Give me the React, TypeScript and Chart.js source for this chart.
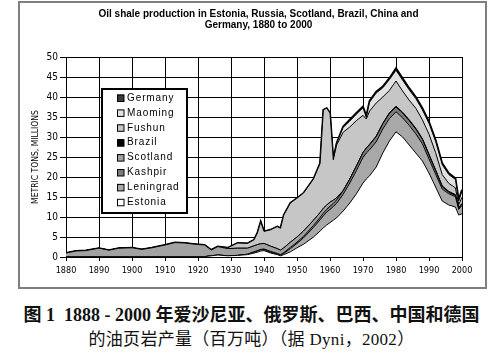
import React, { useEffect, useRef } from "react";
import { Chart, registerables } from "chart.js";
Chart.register(...registerables);

// x values (years) shared by all series
const years = [
  1880, 1883, 1886, 1890, 1893, 1896, 1900, 1903, 1906, 1910,
  1913, 1916, 1919, 1922, 1924, 1926, 1929, 1932, 1935, 1937,
  1938, 1939, 1940, 1942, 1944, 1945, 1946, 1948, 1950, 1952,
  1955, 1957, 1958, 1959, 1960, 1961, 1962, 1964, 1966, 1968,
  1970, 1971, 1972, 1974, 1976, 1978, 1980, 1982, 1984, 1986,
  1988, 1990, 1992, 1994, 1996, 1998, 1999, 2000,
];

// million metric tons, stacked bottom -> top
const estonia = [
  0, 0, 0, 0, 0, 0, 0, 0, 0, 0,
  0, 0, 0, 0.1, 0.3, 0.5, 0.3, 0.4, 0.6, 1.0,
  1.2, 1.5, 1.6, 1.0, 0.6, 0.3, 0.6, 1.3, 2.3, 3.2,
  5.0, 6.5, 7.3, 8.0, 8.6, 9.2, 9.8, 11.5, 13.5, 15.8,
  18.5, 19.5, 20.3, 22.5, 26.0, 29.0, 31.3, 30.0, 28.0, 26.0,
  24.0, 21.0, 17.5, 14.0, 13.0, 12.5, 10.5, 10.8,
];
const leningrad = [
  0, 0, 0, 0, 0, 0, 0, 0, 0, 0,
  0, 0, 0, 0, 0, 0, 0, 0, 0.1, 0.2,
  0.3, 0.3, 0.3, 0.2, 0.1, 0.1, 0.3, 0.8, 1.1, 1.6,
  2.4, 2.8, 3.0, 3.2, 3.3, 3.4, 3.6, 4.2, 5.0, 5.8,
  6.4, 6.5, 6.5, 6.3, 6.0, 5.6, 5.0, 4.8, 4.9, 4.8,
  4.3, 3.5, 3.2, 3.0, 2.8, 2.6, 1.4, 2.1,
];
const kashpir = [
  0, 0, 0, 0, 0, 0, 0, 0, 0, 0,
  0, 0, 0, 0, 0, 0, 0, 0, 0, 0.1,
  0.1, 0.1, 0.1, 0.2, 0.2, 0.2, 0.2, 0.3, 0.3, 0.4,
  0.5, 0.6, 0.7, 0.7, 0.8, 0.8, 0.9, 0.9, 1.0, 1.1,
  1.2, 1.2, 1.3, 1.3, 1.3, 1.3, 1.2, 1.2, 1.2, 1.2,
  1.1, 1.0, 0.9, 0.6, 0.4, 0.3, 0.3, 0.3,
];
const scotland = [
  1.0, 1.5, 1.6, 2.2, 1.7, 2.2, 2.3, 1.9, 2.3, 3.0,
  3.6, 3.5, 3.2, 2.9, 1.45, 2.1, 1.8, 1.8, 1.5, 1.5,
  1.5, 1.4, 1.4, 1.3, 1.2, 1.1, 1.2, 1.3, 1.3, 1.3,
  1.3, 1.2, 1.2, 1.1, 1.0, 0.8, 0.5, 0, 0, 0,
  0, 0, 0, 0, 0, 0, 0, 0, 0, 0,
  0, 0, 0, 0, 0, 0, 0, 0,
];
const brazil = [
  0, 0, 0, 0, 0, 0, 0, 0, 0, 0,
  0, 0, 0, 0, 0, 0, 0, 0, 0, 0,
  0, 0, 0, 0, 0, 0, 0, 0, 0, 0,
  0, 0, 0, 0, 0, 0, 0, 0, 0, 0,
  0, 0, 0.1, 0.1, 0.1, 0.15, 0.2, 0.2, 0.2, 0.2,
  0.2, 0.2, 0.2, 0.2, 0.2, 0.2, 0.2, 0.2,
];
const fushun = [
  0, 0, 0, 0, 0, 0, 0, 0, 0, 0,
  0, 0, 0, 0, 0, 0, 0.2, 1.3, 1.2, 1.5,
  2.9, 5.5, 3.0, 4.1, 5.5, 5.5, 8.2, 9.8, 9.7, 9.5,
  10.3, 12.3, 24.6, 24.2, 22.3, 10.1, 13.2, 14.6, 13.0, 11.4,
  9.3, 7.3, 8.3, 8.3, 6.6, 5.6, 6.3, 5.3, 4.9, 5.0,
  4.7, 5.0, 4.3, 2.8, 2.0, 1.7, 0.7, 1.5,
];
const maoming = [
  0, 0, 0, 0, 0, 0, 0, 0, 0, 0,
  0, 0, 0, 0, 0, 0, 0, 0, 0, 0,
  0, 0, 0, 0, 0, 0, 0, 0, 0, 0,
  0, 0, 0, 0, 0, 0, 0.4, 1.2, 1.5, 1.6,
  1.9, 0.4, 2.2, 2.5, 2.3, 2.7, 2.7, 2.7, 2.6, 2.4,
  2.5, 2.7, 2.8, 2.5, 2.2, 2.1, 0.9, 1.6,
];
const germany = [
  0, 0, 0, 0, 0, 0, 0, 0, 0, 0,
  0, 0, 0, 0, 0, 0, 0, 0, 0, 0,
  0, 0, 0, 0, 0, 0, 0, 0, 0, 0,
  0, 0, 0, 0, 0, 0, 0, 0.2, 0.3, 0.3,
  0.3, 0.3, 0.3, 0.3, 0.3, 0.35, 0.5, 0.5, 0.4, 0.4,
  0.4, 0.4, 0.35, 0.3, 0.3, 0.3, 0.3, 0.3,
];

const seriesNames = ["Estonia", "Leningrad", "Kashpir", "Scotland", "Brazil", "Fushun", "Maoming", "Germany"];
const seriesColors = ["#ffffff", "#a8a8a8", "#7c7c7c", "#a2a2a2", "#000000", "#c6c6c6", "#e2e2e2", "#3a3a3a"];

const titleLines = [
  "Oil shale production in Estonia, Russia, Scotland, Brazil, China and",
  "Germany, 1880 to 2000",
];
const yAxisTitle = "METRIC TONS, MILLIONS";
const captionLine1 = "图 1  1888 - 2000 年爱沙尼亚、俄罗斯、巴西、中国和德国";
const captionLine2 = "的油页岩产量（百万吨）（据 Dyni，2002）";

const narrow = '"Liberation Sans Narrow", "Arial Narrow", "DejaVu Sans Condensed", sans-serif';

export default function App() {
  const ref = useRef<HTMLCanvasElement>(null);

  useEffect(() => {
    document.body.style.margin = "0";
    const seriesValues = [estonia, leningrad, kashpir, scotland, brazil, fushun, maoming, germany];
    const datasets = seriesValues.map((vals, i) => ({
      label: seriesNames[i],
      data: years.map((yr, j) => ({ x: yr, y: vals[j] })),
      backgroundColor: seriesColors[i],
      borderColor: "#000",
      borderWidth: i === seriesValues.length - 1 ? 2 : 1,
      fill: i === 0 ? "origin" : "-1",
      pointRadius: 0,
      tension: 0,
    }));

    const boxLegend = {
      id: "boxLegend",
      afterDraw(chart: any) {
        const ctx = chart.ctx;
        const bx = 102, by = 89, bw = 85, bh = 124;
        ctx.save();
        ctx.fillStyle = "#fff";
        ctx.fillRect(bx, by, bw, bh);
        ctx.lineWidth = 2;
        ctx.strokeStyle = "#000";
        ctx.strokeRect(bx, by, bw, bh);
        ctx.font = '10px "Liberation Sans", Arial, sans-serif';
        try { (ctx as any).letterSpacing = "0.9px"; } catch (e) {}
        ctx.textBaseline = "middle";
        ctx.textAlign = "left";
        const n = seriesNames.length;
        for (let k = 0; k < n; k++) {
          const idx = n - 1 - k;
          const cy = by + 9 + k * 14.9;
          ctx.fillStyle = seriesColors[idx];
          ctx.fillRect(117, cy - 3.5, 7, 7);
          ctx.lineWidth = 1;
          ctx.strokeStyle = "#000";
          ctx.strokeRect(117.5, cy - 3, 6.5, 6.5);
          ctx.fillStyle = "#000";
          ctx.fillText(seriesNames[idx], 127, cy);
        }
        ctx.restore();
      },
    };

    const chart = new Chart(ref.current as HTMLCanvasElement, {
      type: "line",
      data: { datasets: datasets as any },
      options: {
        responsive: false,
        animation: false,
        devicePixelRatio: 1,
        layout: { padding: { left: 27, right: 41, top: 57, bottom: 0 } },
        plugins: {
          legend: { display: false },
          tooltip: { enabled: false },
          title: { display: false },
        },
        scales: {
          x: {
            type: "linear",
            min: 1880,
            max: 2000,
            ticks: {
              stepSize: 10,
              autoSkip: false,
              maxRotation: 0,
              padding: 4,
              color: "#000",
              font: { family: narrow, size: 9 },
              callback: (v: any) => String(v),
            },
            grid: { color: "#000", lineWidth: 1, tickLength: 4 },
            border: { color: "#000", width: 1 },
            afterFit: (s: any) => { s.height = 35; },
          },
          y: {
            stacked: true,
            min: 0,
            max: 50,
            ticks: {
              stepSize: 5,
              padding: 2,
              color: "#000",
              font: { family: narrow, size: 10 },
            },
            grid: { color: "#000", lineWidth: 1, tickLength: 6 },
            border: { color: "#000", width: 1 },
            title: {
              display: true,
              text: yAxisTitle,
              color: "#000",
              font: { family: narrow, size: 8.5, lineHeight: 1.2 },
              padding: { top: 4, bottom: 0 },
            },
            afterFit: (s: any) => { s.width = 39; },
          },
        },
      },
      plugins: [boxLegend],
    });
    return () => chart.destroy();
  }, []);

  return (
    <div style={{ position: "relative", width: 503, height: 362, background: "#fff", overflow: "hidden" }}>
      <canvas ref={ref} width={503} height={292} style={{ position: "absolute", left: 0, top: 0, width: 503, height: 292 }} />
      <div
        style={{
          position: "absolute", left: 58, top: 9, width: 401, textAlign: "center",
          fontFamily: '"Liberation Sans", Arial, sans-serif', fontWeight: 700,
          fontSize: 10, lineHeight: "10.5px", color: "#000",
        }}
      >
        <div>{titleLines[0]}</div>
        <div>{titleLines[1]}</div>
      </div>
      <div
        style={{
          position: "absolute", left: 18, top: 1, width: 469, height: 288,
          border: "2px solid #7f7f7f", boxSizing: "border-box", pointerEvents: "none",
        }}
      />
      <div
        style={{
          position: "absolute", left: 0, top: 304, width: 503, textAlign: "center",
          fontFamily: '"Liberation Serif", "Noto Sans CJK SC", serif', fontWeight: 700,
          fontSize: 18, lineHeight: "22px", color: "#111", whiteSpace: "pre",
        }}
      >
        {captionLine1}
      </div>
      <div
        style={{
          position: "absolute", left: 0, top: 329, width: 503, textAlign: "center",
          fontFamily: '"Liberation Serif", "Noto Sans CJK SC", serif', fontWeight: 400,
          fontSize: 17, lineHeight: "22px", color: "#111", whiteSpace: "pre", letterSpacing: "0.3px",
        }}
      >
        {captionLine2}
      </div>
    </div>
  );
}
